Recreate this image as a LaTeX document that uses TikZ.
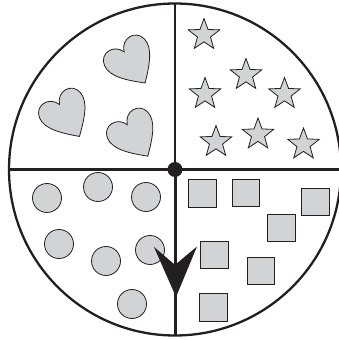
\documentclass[tikz,border=0pt]{standalone}
\usetikzlibrary{shapes.geometric}
\definecolor{shapefill}{HTML}{D1D3D4}
\definecolor{ink}{HTML}{231F20}
\newcommand{\heartshape}[3]{%
  \filldraw[token, shift={(#1,#2)}, rotate=#3, scale=23.5]
    (0,-1) .. controls (-0.55,-0.5) and (-1.12,0.05) .. (-1.02,0.58)
    .. controls (-0.92,1.12) and (-0.2,1.15) .. (0,0.6)
    .. controls (0.2,1.15) and (0.92,1.12) .. (1.02,0.58)
    .. controls (1.12,0.05) and (0.55,-0.5) .. (0,-1) -- cycle;}
\begin{document}
\begin{tikzpicture}[x=1pt,y=1pt,
  token/.style={fill=shapefill, draw=ink, line width=0.8pt},
  staricon/.style={token, star, star points=5, star point ratio=2.4, minimum size=33pt, inner sep=0pt},
  roundtoken/.style={token, circle, minimum size=29pt, inner sep=0pt},
  squaretoken/.style={token, rectangle, minimum size=27.5pt, inner sep=0pt},
  hub/.style={circle, fill=ink, minimum size=15pt, inner sep=0pt},
  rim/.style={draw=ink, line width=2.3pt},
  divider/.style={draw=ink, line width=2.4pt},
  shaft/.style={draw=ink, line width=3pt},
]
\useasboundingbox (0,0) rectangle (338,340);
\coordinate (O) at (175,170.5);
\coordinate (N) at (175,336.5);
\coordinate (S) at (175,4.5);
\coordinate (W) at (9,170.5);
\coordinate (E) at (341,170.5);

% rim
\draw[rim] (O) circle (166);

% hearts
\heartshape{132}{276.5}{34}
\heartshape{67}{223.5}{32}
\heartshape{135}{203.5}{33}

% stars
\node[staricon] (st1) at (204,305) {};
\node[staricon] (st2) at (246,265) {};
\node[staricon] (st3) at (205,246) {};
\node[staricon] (st4) at (284.5,246) {};
\node[staricon] (st5) at (216,198) {};
\node[staricon] (st6) at (258,205.5) {};
\node[staricon] (st7) at (303.5,195.5) {};

% circles
\node[roundtoken] (c1) at (47,142) {};
\node[roundtoken] (c2) at (98,153) {};
\node[roundtoken] (c3) at (146,143) {};
\node[roundtoken] (c4) at (59,96) {};
\node[roundtoken] (c5) at (106,79) {};
\node[roundtoken] (c6) at (150,90) {};
\node[roundtoken] (c7) at (132,36) {};

% squares
\node[squaretoken] (q1) at (202.5,146.5) {};
\node[squaretoken] (q2) at (246,147.3) {};
\node[squaretoken] (q3) at (315.5,138) {};
\node[squaretoken] (q4) at (281.5,112) {};
\node[squaretoken] (q5) at (214.5,85) {};
\node[squaretoken] (q6) at (261,69) {};
\node[squaretoken] (q7) at (213.5,32.5) {};

% dividers
\draw[divider] (W) -- (E);
\draw[divider] (N) -- (O);

% pointer
\node[hub] (hub) at (O) {};
\draw[shaft] (hub.center) -- (S);
\fill[ink] (154,93) -- (174,76) -- (176,76) -- (197,93.5) -- (176,43) -- cycle;
\end{tikzpicture}
\end{document}
